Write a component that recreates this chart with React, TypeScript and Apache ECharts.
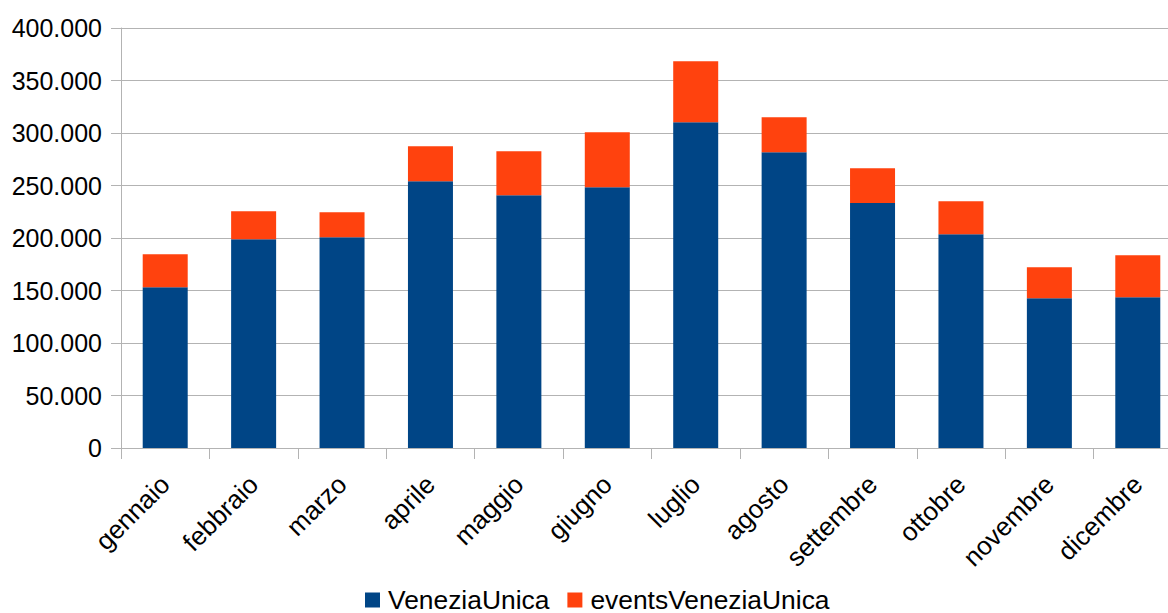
import React, { useEffect, useRef } from "react";
import * as echarts from "echarts";

const months = [
  "gennaio", "febbraio", "marzo", "aprile", "maggio", "giugno",
  "luglio", "agosto", "settembre", "ottobre", "novembre", "dicembre",
];
const veneziaUnica = [153000, 198800, 200700, 254000, 240700, 248300, 310200, 281600, 233300, 203500, 142600, 143500];
const eventsVeneziaUnica = [31500, 26600, 23800, 33300, 41900, 52400, 58100, 33300, 33100, 31400, 29500, 40000];
const seriesNames = ["VeneziaUnica", "eventsVeneziaUnica"];
const colors = ["#004586", "#ff420e"];

const FONT = "Liberation Sans, Arial, sans-serif";

function fmt(v: number): string {
  if (v === 0) return "0";
  const s = Math.round(v).toString();
  return s.replace(/\B(?=(\d{3})+(?!\d))/g, ".");
}

export default function App() {
  const ref = useRef<HTMLDivElement>(null);
  useEffect(() => {
    document.body.style.margin = "0";
    if (!ref.current) return;
    const chart = echarts.init(ref.current, undefined, { renderer: "svg" });
    chart.setOption({
      animation: false,
      backgroundColor: "#ffffff",
      color: colors,
      grid: {
        left: 121,
        width: 1061,
        top: 28,
        bottom: 165,
        containLabel: false,
        outerBoundsMode: "none",
      },
      legend: {
        data: seriesNames,
        left: 360,
        top: 582,
        itemWidth: 15,
        itemHeight: 15,
        itemGap: 18,
        icon: "rect",
        textStyle: {
          fontFamily: FONT,
          fontSize: 26.4,
          lineHeight: 24,
          color: "#000",
          padding: [0, 0, 0, 3],
        },
      },
      xAxis: {
        type: "category",
        data: months,
        axisLine: { lineStyle: { color: "#b3b3b3", width: 1 } },
        axisTick: { show: true, length: 11, lineStyle: { color: "#b3b3b3" } },
        axisLabel: {
          rotate: 45,
          interval: 0,
          margin: 32,
          fontFamily: FONT,
          fontSize: 26,
          color: "#000",
        },
      },
      yAxis: {
        type: "value",
        min: 0,
        max: 400000,
        interval: 50000,
        axisLine: { show: true, lineStyle: { color: "#b3b3b3", width: 1 } },
        axisTick: { show: true, length: 10, lineStyle: { color: "#b3b3b3" } },
        splitLine: { show: true, lineStyle: { color: "#b3b3b3", width: 1 } },
        axisLabel: {
          margin: 19,
          fontFamily: FONT,
          fontSize: 25,
          color: "#000",
          formatter: (v: number) => fmt(v),
        },
      },
      series: [
        {
          name: seriesNames[0],
          type: "bar",
          stack: "total",
          data: veneziaUnica,
          barWidth: 45,
          itemStyle: { color: colors[0] },
        },
        {
          name: seriesNames[1],
          type: "bar",
          stack: "total",
          data: eventsVeneziaUnica,
          barWidth: 45,
          itemStyle: { color: colors[1] },
        },
      ],
    });
    return () => chart.dispose();
  }, []);
  return <div ref={ref} style={{ width: 1168, height: 613 }} />;
}
